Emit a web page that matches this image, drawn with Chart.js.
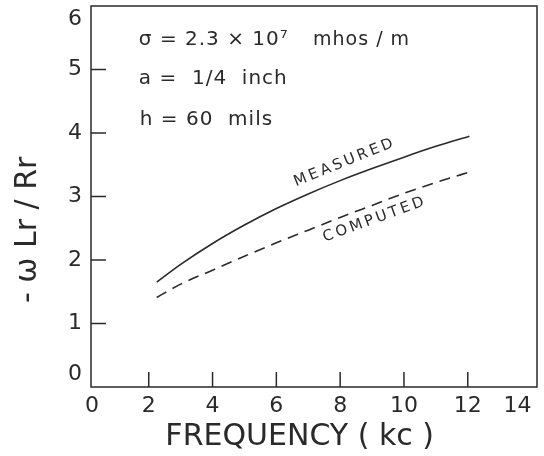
<!DOCTYPE html>
<html>
<head>
<meta charset="utf-8">
<script src="https://cdn.jsdelivr.net/npm/chart.js@4.4.1/dist/chart.umd.min.js"></script>
<style>
  html, body { margin: 0; padding: 0; background: #fff; }
  #wrap { width: 544px; height: 456px; }
</style>
</head>
<body>
<div id="wrap"><canvas id="chart" width="544" height="456"></canvas></div>
<script>
// data
const freqMeasured = [2.25, 3, 4, 5, 6, 7, 8, 9, 10, 11, 12.05];
const measured = [1.65, 1.93, 2.26, 2.55, 2.81, 3.04, 3.25, 3.44, 3.62, 3.79, 3.95];
const freqComputed = [2.25, 3, 4, 5, 6, 7, 8, 9, 10, 11, 12.15];
const computed = [1.41, 1.62, 1.84, 2.06, 2.27, 2.47, 2.67, 2.86, 3.05, 3.22, 3.40];

const xTicks = [0, 2, 4, 6, 8, 10, 12, 14];
const yTicks = [0, 1, 2, 3, 4, 5, 6];
const xMarks = [2, 4, 6, 8, 10, 12];
const yMarks = [1, 2, 3, 4, 5];

const ink = "#2a2a2a";
const font = "'DejaVu Sans', sans-serif";

// notes on the plot, placed in data units
const notes = [
    { text: "σ = 2.3 × 10⁷", x: 1.69, y: 5.38, size: 20, rot: 0 },
    { text: "mhos / m", x: 7.15, y: 5.38, size: 19, rot: 0 },
    { text: "a =  1/4  inch", x: 1.69, y: 4.77, size: 20, rot: 0 },
    { text: "h = 60  mils", x: 1.72, y: 4.13, size: 20, rot: 0 },
    { text: "MEASURED", x: 8.15, y: 3.54, size: 15, rot: -22, center: true },
    { text: "COMPUTED", x: 9.09, y: 2.64, size: 15, rot: -20, center: true }
];

function toPoints(xs, ys) {
    let pts = [];
    for (let i = 0; i < xs.length; i++) {
        pts.push({ x: xs[i], y: ys[i] });
    }
    return pts;
}

// frame, inward tick marks and notes
const sketchPlugin = {
    id: "sketch",
    afterDraw(chart) {
        const ctx = chart.ctx;
        const area = chart.chartArea;
        const xs = chart.scales.x;
        const ys = chart.scales.y;
        ctx.save();
        ctx.strokeStyle = ink;
        ctx.lineWidth = 1.5;
        ctx.strokeRect(area.left, area.top, area.right - area.left, area.bottom - area.top);

        ctx.beginPath();
        yMarks.forEach(v => {
            let py = ys.getPixelForValue(v);
            ctx.moveTo(area.left, py);
            ctx.lineTo(area.left + 15, py);
        });
        xMarks.forEach(v => {
            let px = xs.getPixelForValue(v);
            ctx.moveTo(px, area.bottom);
            ctx.lineTo(px, area.bottom - 15);
        });
        ctx.stroke();

        ctx.fillStyle = ink;
        notes.forEach(n => {
            ctx.save();
            ctx.font = n.size + "px " + font;
            ctx.letterSpacing = n.center ? "3px" : "1px";
            ctx.translate(xs.getPixelForValue(n.x), ys.getPixelForValue(n.y));
            ctx.rotate(n.rot * Math.PI / 180);
            ctx.textAlign = n.center ? "center" : "left";
            ctx.textBaseline = n.center ? "middle" : "alphabetic";
            ctx.fillText(n.text, 0, 0);
            ctx.restore();
        });
        ctx.restore();
    }
};

window.addEventListener("load", () => {
    let chartDOM = document.getElementById("chart").getContext("2d");

    const data = {
        datasets: [{
            label: "MEASURED",
            data: toPoints(freqMeasured, measured),
            borderColor: ink,
            borderWidth: 1.6,
            pointRadius: 0,
            tension: 0.4,
            cubicInterpolationMode: "monotone"
        }, {
            label: "COMPUTED",
            data: toPoints(freqComputed, computed),
            borderColor: ink,
            borderWidth: 1.6,
            borderDash: [11, 7],
            pointRadius: 0,
            tension: 0.4,
            cubicInterpolationMode: "monotone"
        }]
    };

    const config = {
        type: "line",
        data: data,
        options: {
            responsive: false,
            animation: false,
            layout: {
                padding: { top: 6, right: 7, left: 0, bottom: 0 }
            },
            scales: {
                x: {
                    type: "linear",
                    min: 0.19,
                    max: 14.17,
                    afterBuildTicks: (scale) => {
                        scale.ticks = xTicks.map(v => ({ value: v }));
                    },
                    afterFit: (scale) => {
                        scale.height = 69;
                        scale.paddingLeft = 0;
                        scale.paddingRight = 0;
                    },
                    grid: { display: false, drawTicks: false },
                    border: { display: false },
                    ticks: {
                        align: "inner",
                        padding: 6,
                        color: ink,
                        font: { family: font, size: 22 },
                        maxRotation: 0,
                        autoSkip: false
                    },
                    title: {
                        display: true,
                        text: "FREQUENCY ( kc )   ",
                        color: ink,
                        font: { family: font, size: 30 },
                        padding: { top: 0, bottom: 1 }
                    }
                },
                y: {
                    min: 0,
                    max: 6,
                    afterBuildTicks: (scale) => {
                        scale.ticks = yTicks.map(v => ({ value: v }));
                    },
                    afterFit: (scale) => {
                        scale.width = 91;
                        scale.paddingTop = 0;
                        scale.paddingBottom = 0;
                    },
                    grid: { display: false, drawTicks: false },
                    border: { display: false },
                    ticks: {
                        padding: 9,
                        color: ink,
                        font: { family: font, size: 22 },
                        // end labels sit inside the frame, like the hand-drawn original
                        callback: function (value) {
                            if (value === 0) return ["0", ""];
                            if (value === 6) return ["", "6"];
                            return String(value);
                        }
                    },
                    title: {
                        display: true,
                        text: "- ω Lr / Rr       ",
                        color: ink,
                        font: { family: font, size: 30 },
                        padding: { top: 10, bottom: 0 }
                    }
                }
            },
            plugins: {
                legend: { display: false },
                tooltip: { enabled: false }
            }
        },
        plugins: [sketchPlugin]
    };

    const sketchChart = new Chart(chartDOM, config);
});
</script>
</body>
</html>
